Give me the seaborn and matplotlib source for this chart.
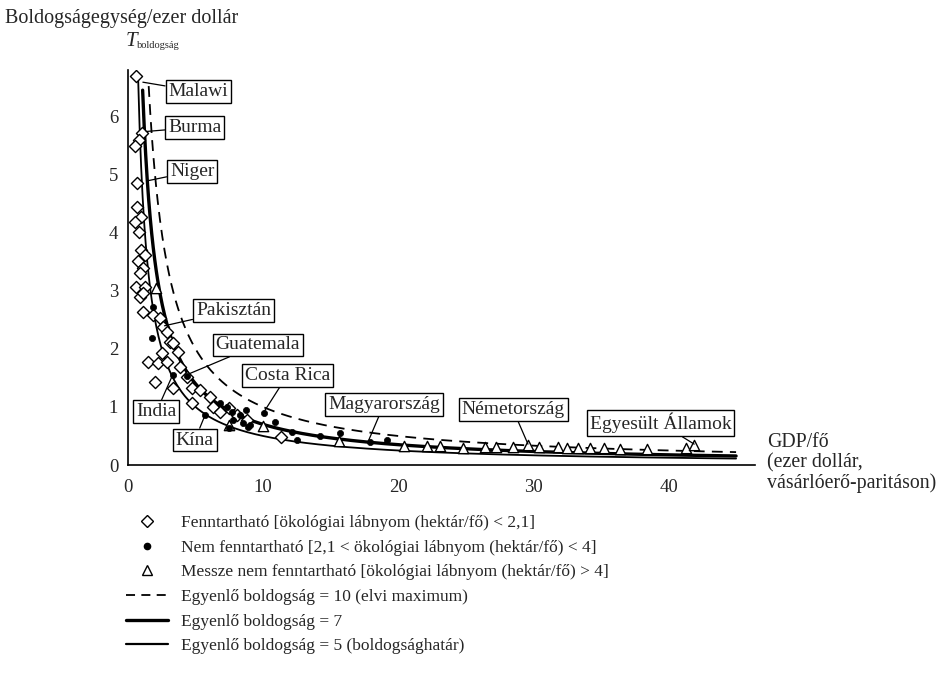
import numpy as np
import pandas as pd
import matplotlib
matplotlib.use("Agg")
import matplotlib.pyplot as plt
from matplotlib.lines import Line2D
import seaborn as sns

# ---------------- data ----------------
sust_gdp = [0.6, 1.0, 0.8, 0.5, 0.67, 0.67, 0.96, 0.52, 0.8, 0.96, 1.26, 0.74, 1.1, 0.89,
            0.6, 1.26, 0.89, 1.1, 1.1, 1.85, 2.37, 2.6, 2.9, 3.1, 3.3, 3.7, 2.5, 1.5, 2.2,
            2.9, 2.0, 3.3, 3.85, 4.35, 4.7, 5.3, 6.1, 6.3, 4.7, 6.8, 7.5, 8.1, 8.8, 11.3]
sust_t = [6.7, 5.72, 5.6, 5.5, 4.86, 4.45, 4.28, 4.19, 4.02, 3.7, 3.62, 3.52, 3.40, 3.31,
          3.07, 3.07, 2.9, 2.97, 2.64, 2.59, 2.53, 2.38, 2.29, 2.12, 2.1, 1.95, 1.93, 1.78, 1.76,
          1.78, 1.43, 1.32, 1.69, 1.52, 1.32, 1.29, 1.17, 1.0, 1.07, 0.91, 0.98, 0.86, 0.78, 0.48]

nonsust_gdp = [1.85, 1.8, 4.4, 3.3, 5.7, 6.8, 7.3, 7.7, 7.8, 8.3, 8.5, 9.0, 8.7, 7.5, 8.9,
               10.1, 10.9, 12.1, 12.5, 14.2, 15.7, 17.9, 19.2]
nonsust_t = [2.72, 2.19, 1.53, 1.55, 0.86, 1.07, 1.0, 0.91, 0.78, 0.86, 0.72, 0.69, 0.95, 0.64, 0.66,
             0.89, 0.74, 0.57, 0.43, 0.50, 0.55, 0.40, 0.43]

far_gdp = [2.1, 7.5, 10.0, 15.6, 20.4, 22.1, 23.1, 24.8, 26.4, 27.2, 28.5, 29.6, 30.4, 31.8,
           32.5, 33.3, 34.2, 35.2, 36.4, 38.4, 41.3, 41.9]
far_t = [3.05, 0.69, 0.68, 0.41, 0.33, 0.32, 0.32, 0.30, 0.31, 0.31, 0.31, 0.34, 0.31, 0.31,
         0.30, 0.30, 0.29, 0.29, 0.28, 0.27, 0.30, 0.34]

# iso-happiness levels (T = happiness / GDP)
levels = [10, 7, 5]
level_labels = ["Egyenlő boldogság = 10 (elvi maximum)",
                "Egyenlő boldogság = 7",
                "Egyenlő boldogság = 5 (boldogsághatár)"]

countries = ["Malawi", "Burma", "Niger", "Pakisztán", "Guatemala", "Costa Rica",
             "India", "Kína", "Magyarország", "Németország", "Egyesült Államok"]
country_pt = [(1.1, 6.6), (1.35, 5.75), (1.45, 4.9), (2.7, 2.4), (4.6, 1.58), (10.1, 0.93),
              (3.3, 1.55), (5.7, 0.86), (17.8, 0.42), (29.6, 0.36), (41.9, 0.36)]
country_box = [(5.2, 6.44), (4.95, 5.82), (4.75, 5.06), (7.8, 2.67), (9.6, 2.07), (11.8, 1.55),
               (2.1, 0.92), (4.95, 0.43), (18.95, 1.05), (28.5, 0.95), (39.4, 0.72)]

cat_labels = ["Fenntartható [ökológiai lábnyom (hektár/fő) < 2,1]",
              "Nem fenntartható [2,1 < ökológiai lábnyom (hektár/fő) < 4]",
              "Messze nem fenntartható [ökológiai lábnyom (hektár/fő) > 4]"]

# ---------------- style ----------------
sns.set_style("white")
plt.rcParams["font.family"] = ["Liberation Serif", "DejaVu Serif"]

fig = plt.figure(figsize=(9.43, 6.9), dpi=100)
ax = fig.add_axes([128 / 943, (690 - 465) / 690, (755 - 128) / 943, (465 - 70) / 690])

# ---------------- curves ----------------
xgrid = np.linspace(0.3, 45, 800)
curve_styles = [dict(lw=1.3, dashes=(6, 4)), dict(lw=2.4), dict(lw=1.3)]
for lev, st in zip(levels, curve_styles):
    x0 = max(lev / 6.75, 0.3)
    xs = xgrid[xgrid >= x0]
    dfc = pd.DataFrame({"x": xs, "y": lev / xs})
    sns.lineplot(data=dfc, x="x", y="y", ax=ax, color="black",
                 lw=st["lw"], legend=False, sort=False)
    if "dashes" in st:
        ax.lines[-1].set_dashes(st["dashes"])

# ---------------- points ----------------
df_s = pd.DataFrame({"gdp": sust_gdp, "t": sust_t})
df_n = pd.DataFrame({"gdp": nonsust_gdp, "t": nonsust_t})
df_f = pd.DataFrame({"gdp": far_gdp, "t": far_t})
sns.scatterplot(data=df_s, x="gdp", y="t", ax=ax, marker="D", s=38,
                facecolor="white", edgecolor="black", linewidth=1.0, zorder=3)
sns.scatterplot(data=df_n, x="gdp", y="t", ax=ax, marker="o", s=20,
                color="black", edgecolor="black", linewidth=0.5, zorder=4)
sns.scatterplot(data=df_f, x="gdp", y="t", ax=ax, marker="^", s=55,
                facecolor="white", edgecolor="black", linewidth=1.0, zorder=3)

# ---------------- annotations ----------------
for name, pt, box in zip(countries, country_pt, country_box):
    ax.annotate(name, xy=pt, xytext=box, ha="center", va="center", fontsize=14,
                bbox=dict(boxstyle="square,pad=0.15", fc="white", ec="black", lw=1.0),
                arrowprops=dict(arrowstyle="-", lw=0.9, color="black",
                                shrinkA=0, shrinkB=0),
                zorder=6)

# ---------------- axes ----------------
ax.set_xlim(0, 46.4)
ax.set_ylim(0, 6.81)
ax.set_xticks([0, 10, 20, 30, 40])
ax.set_yticks([0, 1, 2, 3, 4, 5, 6])
ax.tick_params(axis="x", direction="inout", length=6, width=1, labelsize=13.5, pad=7)
ax.tick_params(axis="y", direction="out", length=5, width=1, labelsize=13.5, pad=2)
for side in ["top", "right"]:
    ax.spines[side].set_visible(False)
for side in ["left", "bottom"]:
    ax.spines[side].set_linewidth(1.2)
    ax.spines[side].set_color("black")
ax.set_xlabel("")
ax.set_ylabel("")

fig.text(5 / 943, 1 - 18 / 690, "Boldogságegység/ezer dollár", fontsize=14.5,
         ha="left", va="center")
fig.text(126 / 943, 1 - 42 / 690, "T", fontsize=15, style="italic", ha="left", va="center")
fig.text(137 / 943, 1 - 46 / 690, "boldogság", fontsize=7.5, ha="left", va="center")
fig.text(767 / 943, 1 - 463 / 690, "GDP/fő\n(ezer dollár,\nvásárlóerő-paritáson)",
         fontsize=14.3, ha="left", va="center", linespacing=1.1)

# ---------------- legend ----------------
handles = [
    Line2D([], [], ls="none", marker="D", ms=6, mfc="white", mec="black", mew=1.0),
    Line2D([], [], ls="none", marker="o", ms=4.5, mfc="black", mec="black"),
    Line2D([], [], ls="none", marker="^", ms=7, mfc="white", mec="black", mew=1.0),
    Line2D([], [], color="black", lw=1.3, dashes=(5, 3.5)),
    Line2D([], [], color="black", lw=2.4),
    Line2D([], [], color="black", lw=1.6),
]
fig.legend(handles, cat_labels + level_labels, loc="upper left",
           bbox_to_anchor=(126 / 943, 1 - 515 / 690), frameon=False, fontsize=12.5,
           handlelength=2.4, handletextpad=0.75, labelspacing=0.49, borderaxespad=0,
           borderpad=0)

fig.savefig("out.png", dpi=100, facecolor="white")
